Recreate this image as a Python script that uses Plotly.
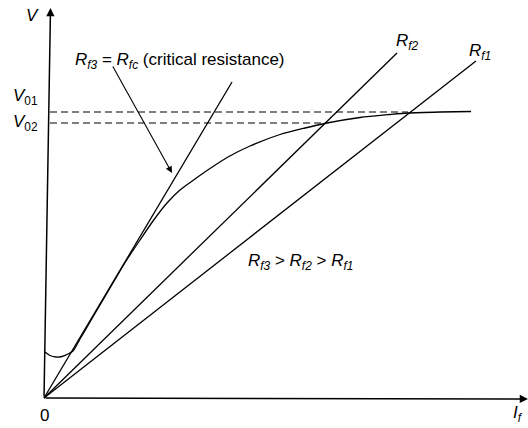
import plotly.graph_objects as go

# Data coordinates: origin at the corner of the two axes (If, V)
# Magnetisation (open-circuit) curve
curve_if = [1, 6, 12, 18, 24, 29, 36, 46, 56, 66, 76, 84, 96, 109, 123, 136, 153, 166, 184, 206, 236, 261, 283, 316, 346, 364, 396, 427]
curve_v = [46, 42.5, 41, 41.5, 44, 47, 59, 76, 93, 110, 127, 140, 158, 177, 195, 208, 220.5, 229.5, 241, 252, 263.5, 270, 275, 280.5, 283.5, 285, 286, 286.5]

# Field resistance lines: end points (through the origin)
rf_names = ["Rf3", "Rf2", "Rf1"]
rf_end_if = [188, 353, 432]
rf_end_v = [316, 345, 337]

# Operating voltages (dashed) and where they end
v_levels = [286, 275]
v_level_end = [364, 283]
v_labels = ["<i>V</i><sub>01</sub>", "<i>V</i><sub>02</sub>"]

FONT = "Liberation Sans, Arial, sans-serif"
fig = go.Figure()

fig.add_trace(go.Scatter(x=curve_if, y=curve_v, mode="lines", line=dict(color="black", width=1.3, shape="spline", smoothing=0.7),
                         hoverinfo="skip", showlegend=False))
for xe, ye in zip(rf_end_if, rf_end_v):
    fig.add_trace(go.Scatter(x=[0, xe], y=[0, ye], mode="lines", line=dict(color="black", width=1.3),
                             hoverinfo="skip", showlegend=False))
for v, xe in zip(v_levels, v_level_end):
    fig.add_trace(go.Scatter(x=[6, xe], y=[v, v], mode="lines", line=dict(color="black", width=1.2, dash="7px,4px"),
                             hoverinfo="skip", showlegend=False))

anns = []
# axes with arrows
anns.append(dict(x=6.5, y=390, ax=0, ay=0, xref="x", yref="y", axref="x", ayref="y", showarrow=True,
                 arrowhead=2, arrowsize=1.1, arrowwidth=1.5, arrowcolor="black", text=""))
anns.append(dict(x=484, y=-1, ax=0, ay=0, xref="x", yref="y", axref="x", ayref="y", showarrow=True,
                 arrowhead=2, arrowsize=1.1, arrowwidth=1.5, arrowcolor="black", text=""))
# pointer arrow to critical line
anns.append(dict(x=128, y=225, ax=68, ay=333, xref="x", yref="y", axref="x", ayref="y", showarrow=True,
                 arrowhead=2, arrowsize=1.2, arrowwidth=1.1, arrowcolor="black", text=""))

def txt(x, y, t, size=17):
    anns.append(dict(x=x, y=y, xref="x", yref="y", text=t, showarrow=False,
                     font=dict(family=FONT, size=size, color="black")))

txt(-12, 383, "<i>V</i>")
for lab, v in zip(v_labels, [301, 275]):
    txt(-19, v, lab)
txt(0, -17, "0")
txt(474, -16, "<i>I<sub>f</sub></i>")
txt(136, 337, "<i>R<sub>f3</sub></i> = <i>R<sub>fc</sub></i> (critical resistance)")
txt(363, 356, "<i>R<sub>f2</sub></i>")
txt(436, 346, "<i>R<sub>f1</sub></i>")
txt(256, 136, "<i>R<sub>f3</sub></i> > <i>R<sub>f2</sub></i> > <i>R<sub>f1</sub></i>")

fig.update_layout(
    width=528, height=428, margin=dict(l=0, r=0, t=0, b=0),
    paper_bgcolor="white", plot_bgcolor="white",
    xaxis=dict(range=[-44, 484], visible=False, fixedrange=True),
    yaxis=dict(range=[-30, 398], visible=False, fixedrange=True),
    annotations=anns, showlegend=False,
)
fig.write_html("out.html", post_script="document.body.style.margin='0';", config={"displayModeBar": False})
